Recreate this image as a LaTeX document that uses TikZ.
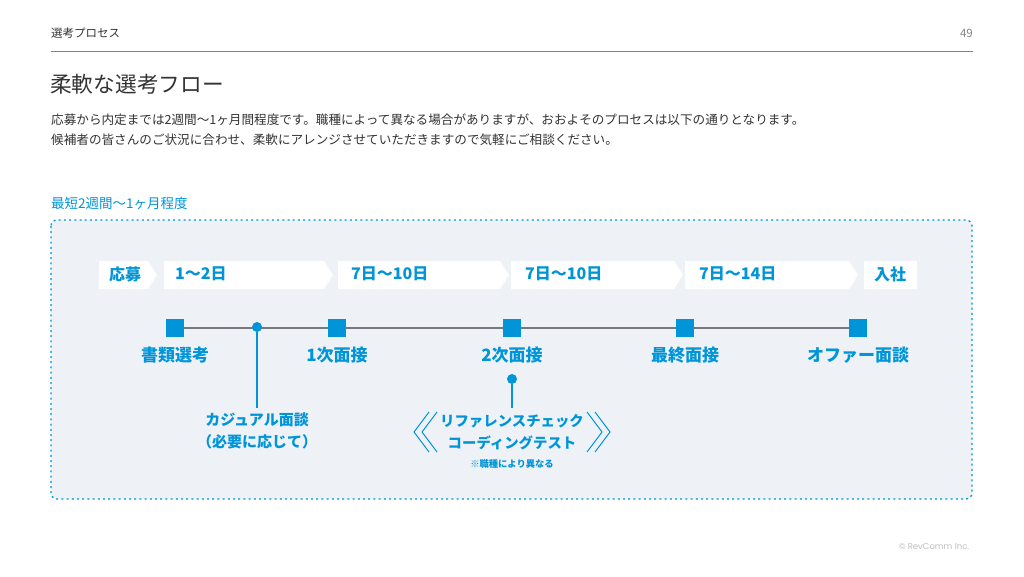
\documentclass[tikz,border=0pt]{standalone}
\usepackage{fontspec}
\setmainfont{Noto Sans CJK JP}
\newfontfamily\footfont{Poppins}
\usetikzlibrary{backgrounds}
\definecolor{accent}{RGB}{0,149,217}
\definecolor{panel}{RGB}{238,242,247}
\definecolor{ink}{RGB}{51,51,51}
\definecolor{rule}{RGB}{130,130,130}
\definecolor{track}{RGB}{120,120,120}
\tikzset{
    header_text/.style = {
        inner sep=0pt,
        text=ink,
        font=\fontsize{11.5}{13}\selectfont
    },
    title_text/.style = {
        anchor=west,
        inner sep=0pt,
        text=ink,
        font=\fontsize{21.7}{24}\selectfont
    },
    body_text/.style = {
        anchor=west,
        inner sep=0pt,
        text=ink,
        font=\fontsize{12.6}{15}\selectfont
    },
    panel_box/.style = {
        draw=accent,
        fill=panel,
        line width=1.3pt,
        dash pattern=on 2pt off 3.2pt,
        rounded corners=6pt
    },
    chevron_box/.style = {
        fill=white,
        draw=none
    },
    span_text/.style = {
        inner sep=0pt,
        text=accent,
        font=\bfseries\fontsize{16}{18}\selectfont
    },
    track_line/.style = {
        draw=track,
        line width=2pt
    },
    stop_mark/.style = {
        fill=accent,
        draw=none,
        minimum size=18pt,
        inner sep=0pt
    },
    dot_mark/.style = {
        circle,
        fill=accent,
        draw=none,
        minimum size=10pt,
        inner sep=0pt
    },
    stem_line/.style = {
        draw=accent,
        line width=1.5pt
    },
    stop_text/.style = {
        inner sep=0pt,
        text=accent,
        font=\bfseries\fontsize{17}{19}\selectfont
    },
    note_text/.style = {
        inner sep=0pt,
        text=accent,
        align=center,
        font=\bfseries\fontsize{15}{21.5}\selectfont
    },
    small_note/.style = {
        inner sep=0pt,
        text=accent,
        font=\bfseries\fontsize{9.3}{11}\selectfont
    },
    bracket_line/.style = {
        draw=accent,
        line width=1pt
    },
}
\begin{document}
\begin{tikzpicture}[x=1pt, y=-1pt]
    \useasboundingbox (0,0) rectangle (1024,576);

    \node[header_text, anchor=west] (section) at (51,33) {選考プロセス};
    \node[header_text, anchor=east, text=rule] (page) at (973,33) {49};
    \draw[rule, line width=0.8pt] (51,51) -- (973,51);

    \node[title_text] (title) at (50,84) {柔軟な選考フロー};
    \node[body_text] (lead1) at (51,120) {応募から内定までは2週間〜1ヶ月間程度です。職種によって異なる場合がありますが、おおよそのプロセスは以下の通りとなります。};
    \node[body_text] (lead2) at (51,140) {候補者の皆さんのご状況に合わせ、柔軟にアレンジさせていただきますので気軽にご相談ください。};

    \node[body_text, text=accent, font=\fontsize{13.5}{15}\selectfont] (span) at (51,203) {最短2週間〜1ヶ月程度};

    \begin{scope}[on background layer]
        \fill[white] (0,0) rectangle (1024,576);
        \path[panel_box] (51,220) rectangle (972,499);
    \end{scope}

    \foreach \l/\r in {99/148, 164/324, 338/500, 511/674, 685/849} {
        \path[chevron_box] (\l,261) -- (\r,261) -- (\r+9,275) -- (\r,289) -- (\l,289) -- cycle;
    }
    \path[chevron_box] (864,261) rectangle (917,289);

    \node[span_text] (apply) at (125,274) {応募};
    \node[span_text, anchor=west] (gap1) at (175,274) {1〜2日};
    \node[span_text, anchor=west] (gap2) at (351,274) {7日〜10日};
    \node[span_text, anchor=west] (gap3) at (525,274) {7日〜10日};
    \node[span_text, anchor=west] (gap4) at (699,274) {7日〜14日};
    \node[span_text] (join) at (890,274) {入社};

    \foreach \x/\name/\label in {175/s1/書類選考, 337/s2/1次面接, 512/s3/2次面接, 685/s4/最終面接, 858/s5/オファー面談} {
        \node[stop_mark] (\name) at (\x,328) {};
        \node[stop_text] (\name_text) at (\x,355) {\label};
    }

    \node[dot_mark] (c1) at (257,327) {};
    \coordinate (c1_end) at (257,408);
    \begin{scope}[on background layer]
        \draw[track_line] (s1) -- (s5);
    \end{scope}
    \draw[stem_line] (c1) -- (c1_end);
    \node[note_text] (casual) at (257,431) {カジュアル面談\\（必要に応じて）};

    \node[dot_mark] (c2) at (512,379) {};
    \coordinate (c2_end) at (512,408);
    \draw[stem_line] (c2) -- (c2_end);
    \node[note_text, font=\bfseries\fontsize{14.4}{21.5}\selectfont] (check) at (512,432) {リファレンスチェック\\コーディングテスト};
    \node[small_note] (varies) at (512,464) {※職種により異なる};

    \draw[bracket_line] (429,412) -- (414,432) -- (429,452);
    \draw[bracket_line] (437,412) -- (422,432) -- (437,452);
    \draw[bracket_line] (587,412) -- (602,432) -- (587,452);
    \draw[bracket_line] (595,412) -- (610,432) -- (595,452);

    \node[inner sep=0pt, text=black!25, font=\footfont\fontsize{8.5}{10}\selectfont] (credit) at (934,547) {© RevComm Inc.};
\end{tikzpicture}
\end{document}
